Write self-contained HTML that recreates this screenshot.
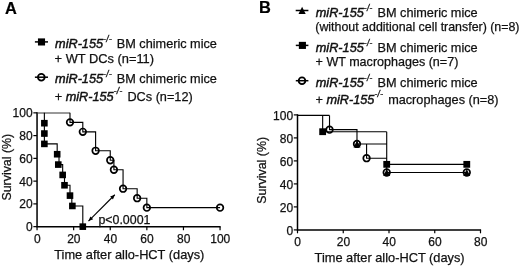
<!DOCTYPE html>
<html><head><meta charset="utf-8"><title>Figure</title>
<style>
html,body{margin:0;padding:0;background:#fff;}
body{width:520px;height:266px;overflow:hidden;}
svg{display:block;}
text{font-family:"Liberation Sans",Arial,sans-serif;font-size:12.7px;fill:#111;stroke:#111;stroke-width:0.25;}
.t{font-size:12px;}
.yl{font-size:12.4px;}
.i{font-style:italic;stroke-width:0.45;}
.b{font-weight:bold;font-size:16.4px;fill:#000;stroke:#000;stroke-width:0.2;}
.ax{stroke:#000;stroke-width:1.5;fill:none;}
.tk{stroke:#000;stroke-width:1.2;fill:none;}
.cv{stroke:#000;stroke-width:1.12;fill:none;}
.top{stroke:#333;stroke-width:1;fill:none;}
.sq{fill:#000;}
.ci{fill:none;stroke:#000;stroke-width:1.7;}
.cw{fill:#fff;stroke:#000;stroke-width:1.5;}
.tr{fill:#000;}
.lg{stroke:#000;stroke-width:1.5;fill:none;}
.lc{stroke:#000;stroke-width:1.8;fill:none;}
.sup{font-size:8.3px;font-style:italic;letter-spacing:0.4px;stroke-width:0.35;}
</style></head><body>
<svg width="520" height="266" viewBox="0 0 520 266">
<rect width="520" height="266" fill="#fff"/>

<path class="ax" d="M37.05 112.25 V226.65 H220.65"/>
<path class="tk" d="M37.05 226.65 H33.35"/>
<text x="32.6" y="231.15" text-anchor="end" class="t">0</text>
<path class="tk" d="M37.05 203.89 H33.35"/>
<text x="32.6" y="208.39" text-anchor="end" class="t">20</text>
<path class="tk" d="M37.05 181.13 H33.35"/>
<text x="32.6" y="185.63" text-anchor="end" class="t">40</text>
<path class="tk" d="M37.05 158.37 H33.35"/>
<text x="32.6" y="162.87" text-anchor="end" class="t">60</text>
<path class="tk" d="M37.05 135.61 H33.35"/>
<text x="32.6" y="140.11" text-anchor="end" class="t">80</text>
<path class="tk" d="M37.05 112.85 H33.35"/>
<text x="32.6" y="117.35" text-anchor="end" class="t">100</text>
<path class="tk" d="M37.05 226.65 V230.25"/>
<text x="37.25" y="243.1" text-anchor="middle" class="t">0</text>
<path class="tk" d="M73.65 226.65 V230.25"/>
<text x="73.85" y="243.1" text-anchor="middle" class="t">20</text>
<path class="tk" d="M110.25 226.65 V230.25"/>
<text x="110.45" y="243.1" text-anchor="middle" class="t">40</text>
<path class="tk" d="M146.85 226.65 V230.25"/>
<text x="147.05" y="243.1" text-anchor="middle" class="t">60</text>
<path class="tk" d="M183.45 226.65 V230.25"/>
<text x="183.65" y="243.1" text-anchor="middle" class="t">80</text>
<path class="tk" d="M220.05 226.65 V230.25"/>
<text x="220.25" y="243.1" text-anchor="middle" class="t">100</text>
<text x="129.3" y="259" text-anchor="middle" style="font-size:12.8px">Time after allo-HCT (days)</text>
<text class="yl" transform="translate(10.6 200.6) rotate(-90)">Survival (%)</text>
<path class="top" d="M37.05 113 H69.99"/>
<path class="cv" d="M69.99 112.85 H69.99 V122.33 H82.8 V131.82 H95.61 V150.78 H110.25 V160.27 H113.91 V169.75 H123.06 V188.72 H137.15 V198.2 H146.85 V207.68 H220.05"/>
<path class="cv" d="M44.37 112.85 H44.37 V143.89 H57.18 V154.23 H59.01 V164.58 H62.67 V174.92 H64.5 V185.27 H69.99 V195.61 H71.82 V205.96 H82.8 V226.65"/>
<circle class="ci" cx="69.99" cy="122.33" r="3.3"/>
<circle class="ci" cx="82.8" cy="131.82" r="3.3"/>
<circle class="ci" cx="95.61" cy="150.78" r="3.3"/>
<circle class="ci" cx="110.25" cy="160.27" r="3.3"/>
<circle class="ci" cx="113.91" cy="169.75" r="3.3"/>
<circle class="ci" cx="123.06" cy="188.72" r="3.3"/>
<circle class="ci" cx="137.15" cy="198.2" r="3.3"/>
<circle class="ci" cx="146.85" cy="207.68" r="3.3"/>
<circle class="ci" cx="220.05" cy="207.68" r="3.3"/>
<rect class="sq" x="41.07" y="119.9" width="6.6" height="6.6"/>
<rect class="sq" x="41.07" y="130.24" width="6.6" height="6.6"/>
<rect class="sq" x="41.07" y="140.59" width="6.6" height="6.6"/>
<rect class="sq" x="53.88" y="150.93" width="6.6" height="6.6"/>
<rect class="sq" x="54.98" y="161.28" width="6.6" height="6.6"/>
<rect class="sq" x="59.37" y="171.62" width="6.6" height="6.6"/>
<rect class="sq" x="61.2" y="181.97" width="6.6" height="6.6"/>
<rect class="sq" x="66.69" y="192.31" width="6.6" height="6.6"/>
<rect class="sq" x="69.07" y="202.66" width="6.6" height="6.6"/>
<rect class="sq" x="79.5" y="223.35" width="6.6" height="6.6"/>
<path class="cv" d="M88.5 221.05 L114.8 194.75"/><path class="sq" d="M88.5 221.05 L93.17 219.21 L90.34 216.38 Z"/><path class="sq" d="M114.8 194.75 L110.13 196.59 L112.96 199.42 Z"/>
<text x="98.4" y="224" style="font-size:12.4px">p&lt;0.0001</text>
<text class="b" x="4.9" y="13.5">A</text>
<path class="lg" d="M34.9 41.9 H48"/><rect class="sq" x="37.95" y="38.4" width="7.1" height="7.1"/>
<text x="55.1" y="48"><tspan class="i">miR-155</tspan><tspan class="sup" dy="-6.1">-/-</tspan><tspan dy="6.1" dx="1.2"> BM chimeric mice</tspan></text>
<text x="54.6" y="63" style="font-size:12.85px">+ WT DCs (n=11)</text>
<circle class="lc" cx="41.3" cy="77.3" r="3.35"/><path class="lg" d="M34.9 77.2 H48"/>
<text x="55.1" y="82.8"><tspan class="i">miR-155</tspan><tspan class="sup" dy="-6.1">-/-</tspan><tspan dy="6.1" dx="1.2"> BM chimeric mice</tspan></text>
<text x="54.8" y="100.5">+ <tspan class="i">miR-155</tspan><tspan class="sup" dy="-6.1">-/-</tspan><tspan dy="6.1" dx="1.2"> DCs (n=12)</tspan></text>
<path class="ax" d="M297.5 114.3 V229.9 H481.1"/>
<path class="tk" d="M297.5 229.9 H293.8"/>
<text x="293.1" y="234.5" text-anchor="end" class="t">0</text>
<path class="tk" d="M297.5 206.9 H293.8"/>
<text x="293.1" y="211.5" text-anchor="end" class="t">20</text>
<path class="tk" d="M297.5 183.9 H293.8"/>
<text x="293.1" y="188.5" text-anchor="end" class="t">40</text>
<path class="tk" d="M297.5 160.9 H293.8"/>
<text x="293.1" y="165.5" text-anchor="end" class="t">60</text>
<path class="tk" d="M297.5 137.9 H293.8"/>
<text x="293.1" y="142.5" text-anchor="end" class="t">80</text>
<path class="tk" d="M297.5 114.9 H293.8"/>
<text x="293.1" y="119.5" text-anchor="end" class="t">100</text>
<path class="tk" d="M297.5 229.9 V233.3"/>
<text x="297.7" y="246.3" text-anchor="middle" class="t">0</text>
<path class="tk" d="M343.25 229.9 V233.3"/>
<text x="343.45" y="246.3" text-anchor="middle" class="t">20</text>
<path class="tk" d="M389 229.9 V233.3"/>
<text x="389.2" y="246.3" text-anchor="middle" class="t">40</text>
<path class="tk" d="M434.75 229.9 V233.3"/>
<text x="434.95" y="246.3" text-anchor="middle" class="t">60</text>
<path class="tk" d="M480.5 229.9 V233.3"/>
<text x="480.7" y="246.3" text-anchor="middle" class="t">80</text>
<text x="389.6" y="261.8" text-anchor="middle" style="font-size:12.8px">Time after allo-HCT (days)</text>
<text class="yl" transform="translate(265.9 203.7) rotate(-90)">Survival (%)</text>
<path class="cv" d="M297.5 115.4 H329.52 M322.66 115.4 V131.71 H386.71 M329.52 115.4 V129.68 H356.98 V143.95 H386.71 M366.58 143.95 V158.22 H386.71 M386.71 131.71 V172.5 H466.77 M386.71 164.34 H466.77"/>
<rect class="sq" x="319.26" y="128.31" width="6.8" height="6.8"/>
<rect class="sq" x="383.31" y="160.94" width="6.8" height="6.8"/>
<rect class="sq" x="463.38" y="160.94" width="6.8" height="6.8"/>
<circle class="ci" cx="329.52" cy="129.68" r="3.3"/>
<circle class="ci" cx="356.98" cy="143.95" r="3.3"/>
<circle class="ci" cx="366.58" cy="158.22" r="3.3"/>
<circle class="ci" cx="386.71" cy="172.5" r="3.3"/>
<circle class="ci" cx="466.77" cy="172.5" r="3.3"/>
<path class="tr" d="M356.98 140.62 L360.48 147.55 L353.48 147.55 Z"/>
<path class="tr" d="M386.71 169.18 L390.21 176.1 L383.21 176.1 Z"/>
<path class="tr" d="M466.77 169.18 L470.27 176.1 L463.27 176.1 Z"/>
<text class="b" x="258.9" y="13.1">B</text>
<path class="lg" d="M295.7 10.5 H308.4"/><path class="tr" d="M302.1 6.78 L305.7 13.91 L298.5 13.91 Z"/>
<text x="315.8" y="16.7"><tspan class="i">miR-155</tspan><tspan class="sup" dy="-6.1">-/-</tspan><tspan dy="6.1" dx="1.2"> BM chimeric mice</tspan></text>
<text x="315.3" y="31.3" style="font-size:12.4px">(without additional cell transfer) (n=8)</text>
<path class="lg" d="M295.8 45.4 H308.4"/><rect class="sq" x="298.85" y="41.85" width="7.1" height="7.1"/>
<text x="315.8" y="51.6"><tspan class="i">miR-155</tspan><tspan class="sup" dy="-6.1">-/-</tspan><tspan dy="6.1" dx="1.2"> BM chimeric mice</tspan></text>
<text x="315.6" y="66.2" style="font-size:12.55px">+ WT macrophages (n=7)</text>
<circle class="lc" cx="302" cy="80.7" r="3.35"/><path class="lg" d="M295.8 80.7 H308.4"/>
<text x="315.8" y="86.7"><tspan class="i">miR-155</tspan><tspan class="sup" dy="-6.1">-/-</tspan><tspan dy="6.1" dx="1.2"> BM chimeric mice</tspan></text>
<text x="315.5" y="103.5">+ <tspan class="i">miR-155</tspan><tspan class="sup" dy="-6.1">-/-</tspan><tspan dy="6.1" dx="1.2"> macrophages (n=8)</tspan></text>
</svg></body></html>
